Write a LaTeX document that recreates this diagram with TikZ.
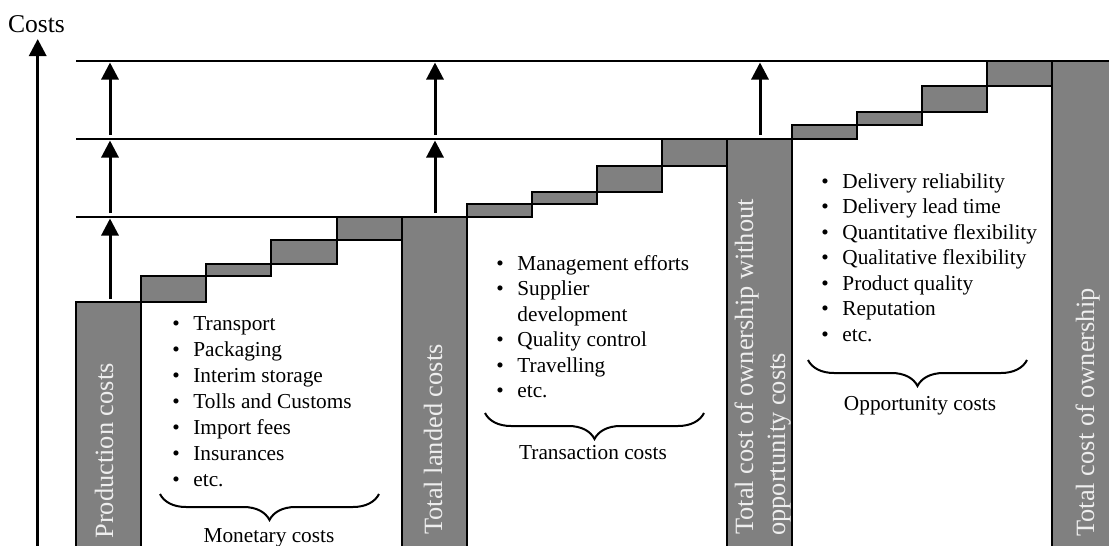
\documentclass[tikz,border=0pt]{standalone}
\usepackage{fontspec}
\setmainfont{Liberation Serif}
\usetikzlibrary{arrows.meta,decorations.pathreplacing}
\definecolor{barfill}{RGB}{128,128,128}
\definecolor{bartext}{RGB}{238,238,238}
\begin{document}
\begin{tikzpicture}[x=0.5pt,y=-0.5pt,
  bar/.style={fill=barfill, draw=black, line width=1pt},
  level/.style={draw=black, line width=1pt},
  up/.style={line width=1.5pt, -{Triangle[width=8.5pt,length=8.5pt]}},
  item/.style={font=\fontsize{10.65pt}{13pt}\selectfont, inner sep=0pt, anchor=base west},
  bul/.style={font=\fontsize{10.65pt}{13pt}\selectfont, inner sep=0pt, anchor=base},
  lab/.style={font=\fontsize{10.65pt}{13pt}\selectfont, inner sep=0pt, anchor=base},
  bartxt/.style={font=\fontsize{13.2pt}{16pt}\selectfont, text=bartext, rotate=90, anchor=base west, inner sep=0pt},
  brc/.style={decorate, decoration={brace, mirror, amplitude=13pt}, line width=1pt}
]
\useasboundingbox (0,0) rectangle (1109,546);
\clip (0,0) rectangle (1109,546);

% level lines
\draw[level] (76,61) -- (1052,61);
\draw[level] (76,139) -- (727,139);
\draw[level] (76,217) -- (402,217);

% monetary steps
\draw[bar] (141,276) rectangle (206,302);
\draw[bar] (206,264) rectangle (271,276);
\draw[bar] (271,240) rectangle (337,264);
\draw[bar] (337,217) rectangle (402,240);
% transaction steps
\draw[bar] (467,204) rectangle (532,217);
\draw[bar] (532,192) rectangle (597,204);
\draw[bar] (597,166) rectangle (662,192);
\draw[bar] (662,139) rectangle (727,166);
% opportunity steps
\draw[bar] (792,125) rectangle (857,139);
\draw[bar] (857,112) rectangle (922,125);
\draw[bar] (922,86) rectangle (987,112);
\draw[bar] (987,61) rectangle (1052,86);

% main bars
\draw[bar] (76,302) rectangle (141,560);
\draw[bar] (402,217) rectangle (467,560);
\draw[bar] (727,139) rectangle (792,560);
\draw[bar] (1052,61) rectangle (1125,560);

% axis
\coordinate (axb) at (37.7,552);
\coordinate (axt) at (37.7,39);
\draw[up, line width=1.6pt] (axb) -- (axt);
\node[font=\fontsize{12.8pt}{15pt}\selectfont, inner sep=0pt, anchor=base] (costs) at (36.5,32.5) {Costs};

% arrows
\coordinate (a1s) at (110,299);  \coordinate (a1e) at (110,218.5);
\coordinate (a2s) at (110,213);  \coordinate (a2e) at (110,140.5);
\coordinate (a3s) at (110,135);  \coordinate (a3e) at (110,62.5);
\coordinate (b2s) at (435,213);  \coordinate (b2e) at (435,140.5);
\coordinate (b3s) at (435,135);  \coordinate (b3e) at (435,62.5);
\coordinate (c3s) at (760,135);  \coordinate (c3e) at (760,62.5);
\draw[up] (a1s) -- (a1e);
\draw[up] (a2s) -- (a2e);
\draw[up] (a3s) -- (a3e);
\draw[up] (b2s) -- (b2e);
\draw[up] (b3s) -- (b3e);
\draw[up] (c3s) -- (c3e);

% bar texts
\node[bartxt] (tpc) at (113,539) {Production costs};
\node[bartxt] (tlc) at (442,535) {Total landed costs};
\node[bartxt] (tcw1) at (753,535) {Total cost of ownership without};
\node[bartxt] (tcw2) at (785,536) {opportunity costs};
\node[bartxt] (tco) at (1094,537) {Total cost of ownership};

% monetary list
\foreach \t [count=\i from 0] in {Transport,Packaging,Interim storage,Tolls and Customs,Import fees,Insurances,etc.}{
  \node[bul] (mb\i) at (176,330+26*\i) {\textbullet};
  \node[item] (m\i) at (193,330+26*\i) {\t};
}
% transaction list
\foreach \b/\t [count=\i from 0] in {1/Management efforts,1/Supplier,0/development,1/Quality control,1/Travelling,1/etc.}{
  \ifnum\b=1 \node[bul] (tb\i) at (500,270+25.5*\i) {\textbullet};\fi
  \node[item] (t\i) at (517,270+25.5*\i) {\t};
}
% opportunity list
\foreach \t [count=\i from 0] in {Delivery reliability,Delivery lead time,Quantitative flexibility,Qualitative flexibility,Product quality,Reputation,etc.}{
  \node[bul] (ob\i) at (825,188+25.5*\i) {\textbullet};
  \node[item] (o\i) at (842,188+25.5*\i) {\t};
}

% braces
\coordinate (mbl) at (160,494); \coordinate (mbr) at (379,494);
\coordinate (tbl) at (485,413); \coordinate (tbr) at (704,413);
\coordinate (obl) at (808,360); \coordinate (obr) at (1027,360);
\draw[brc] (mbl) -- (mbr);
\draw[brc] (tbl) -- (tbr);
\draw[brc] (obl) -- (obr);
\node[lab] (ml) at (269,542) {Monetary costs};
\node[lab] (tl) at (593,459) {Transaction costs};
\node[lab] (ol) at (920,410) {Opportunity costs};
\end{tikzpicture}
\end{document}
